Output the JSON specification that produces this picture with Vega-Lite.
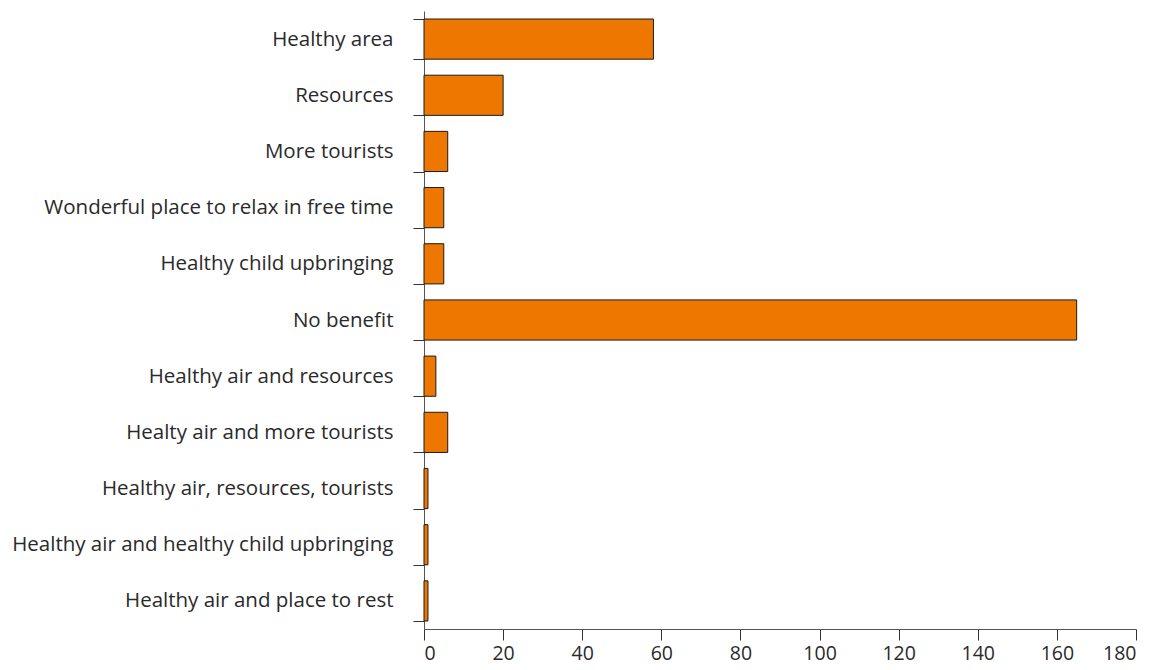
{
  "$schema": "https://vega.github.io/schema/vega-lite/v6.json",
  "width": 712,
  "height": 618,
  "autosize": {"type": "none"},
  "padding": {"left": 424, "top": 11, "right": 28, "bottom": 41},
  "background": "white",
  "config": {
    "view": {"stroke": null},
    "font": "Open Sans",
    "axis": {"labelFont": "Open Sans", "labelColor": "#2a2a2a", "domainColor": "#555555", "tickColor": "#333333", "grid": false}
  },
  "data": {
    "values": [
      {"benefit": "Healthy area", "count": 58},
      {"benefit": "Resources", "count": 20},
      {"benefit": "More tourists", "count": 6},
      {"benefit": "Wonderful place to relax in free time", "count": 5},
      {"benefit": "Healthy child upbringing", "count": 5},
      {"benefit": "No benefit", "count": 165},
      {"benefit": "Healthy air and resources", "count": 3},
      {"benefit": "Healty air and more tourists", "count": 6},
      {"benefit": "Healthy air, resources, tourists", "count": 1},
      {"benefit": "Healthy air and healthy child upbringing", "count": 1},
      {"benefit": "Healthy air and place to rest", "count": 1}
    ]
  },
  "mark": {"type": "bar", "color": "#EE7700", "stroke": "#1a1a1a", "strokeWidth": 1},
  "encoding": {
    "y": {
      "field": "benefit",
      "type": "nominal",
      "sort": null,
      "scale": {"paddingInner": 0.285, "paddingOuter": 0.1425},
      "axis": {
        "title": null,
        "tickBand": "extent",
        "tickSize": 11,
        "labelPadding": 20,
        "labelFontSize": 20.5,
        "labelLimit": 0
      }
    },
    "x": {
      "field": "count",
      "type": "quantitative",
      "scale": {"domain": [0, 180], "nice": false},
      "axis": {
        "title": null,
        "values": [0, 20, 40, 60, 80, 100, 120, 140, 160, 180],
        "tickSize": 11,
        "labelPadding": 4,
        "labelFontSize": 19.5
      }
    }
  }
}
